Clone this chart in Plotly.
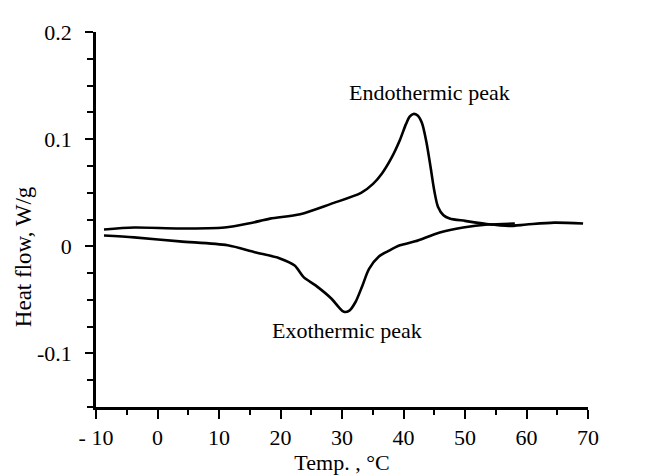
import plotly.graph_objects as go

# Heating curve (endothermic)
heat_temp = [-8.7, -3.8, 3.6, 10.9, 15.0, 18.3, 23.2, 28.2, 33.1, 35.0, 36.5, 38.0, 39.4, 40.4,
             41.0, 41.6, 42.3, 43.0, 43.7, 44.4, 45.0, 45.6, 46.5, 47.5, 50.0, 53.3, 57.1,
             60.0, 64.5, 69.2]
heat_flow = [0.0157, 0.0175, 0.0166, 0.0175, 0.0215, 0.0258, 0.0300, 0.0396, 0.0498, 0.0580,
             0.0680, 0.0820, 0.0990, 0.1140, 0.1210, 0.1235, 0.1220, 0.1150, 0.0980, 0.0740,
             0.0520, 0.0370, 0.0290, 0.0260, 0.0237, 0.0210, 0.0190, 0.0203, 0.0221, 0.0212]

# Cooling curve (exothermic)
cool_temp = [-8.7, -3.8, 3.6, 11.4, 15.8, 19.8, 22.3, 23.8, 25.7, 28.3, 29.5, 30.3, 31.2,
             32.2, 33.3, 34.4, 36.0, 37.5, 39.4, 41.9, 45.9, 49.7, 53.7, 58.1]
cool_flow = [0.0101, 0.0083, 0.0046, 0.0009, -0.0055, -0.0111, -0.0180, -0.0290, -0.0365,
             -0.0490, -0.0570, -0.0612, -0.0600, -0.0520, -0.0370, -0.0210, -0.0095, -0.0045,
             0.0009, 0.0046, 0.0129, 0.0175, 0.0203, 0.0212]

x_ticks = [-10, 0, 10, 20, 30, 40, 50, 60, 70]
x_ticktext = ["- 10", "0", "10", "20", "30", "40", "50", "60", "70"]
y_ticks = [-0.1, 0, 0.1, 0.2]
y_ticktext = ["-0.1", "0", "0.1", "0.2"]

FONT = "Liberation Serif"
FS = 22

fig = go.Figure()
for xs, ys in ((heat_temp, heat_flow), (cool_temp, cool_flow)):
    fig.add_trace(go.Scatter(x=xs, y=ys, mode="lines",
                             line=dict(color="black", width=2.6, shape="spline", smoothing=0.8),
                             showlegend=False, hoverinfo="skip"))

fig.add_annotation(x=44.3, y=0.1438, text="Endothermic peak", showarrow=False,
                   font=dict(family=FONT, size=FS, color="black"))
fig.add_annotation(x=30.8, y=-0.079, text="Exothermic peak", showarrow=False,
                   font=dict(family=FONT, size=FS, color="black"))
fig.add_annotation(xref="paper", yref="paper", x=-0.148, y=0.40, text="Heat flow, W/g",
                   textangle=-90, showarrow=False, xanchor="center", yanchor="middle",
                   font=dict(family=FONT, size=23, color="black"))

fig.update_layout(
    width=650, height=476,
    margin=dict(l=88, r=70, t=24, b=73),
    paper_bgcolor="white", plot_bgcolor="white",
    font=dict(family=FONT, size=FS, color="black"),
    xaxis=dict(range=[-10, 70], tickvals=x_ticks, ticktext=x_ticktext,
               showline=True, linecolor="black", linewidth=2.5, mirror=False,
               ticks="outside", ticklen=9, tickwidth=2, tickcolor="black",
               minor=dict(dtick=5, tick0=-10, ticks="outside", ticklen=5, tickwidth=2,
                          tickcolor="black", showgrid=False),
               showgrid=False, zeroline=False,
               title=dict(text="Temp. , °C", standoff=6,
                          font=dict(family=FONT, size=FS, color="black"))),
    yaxis=dict(range=[-0.15, 0.2], tickvals=y_ticks, ticktext=y_ticktext,
               showline=True, linecolor="black", linewidth=2.5, mirror=False,
               ticks="outside", ticklen=8, tickwidth=2, tickcolor="black",
               ticklabelstandoff=9,
               minor=dict(dtick=0.025, tick0=0, ticks="outside", ticklen=6, tickwidth=2,
                          tickcolor="black", showgrid=False),
               showgrid=False, zeroline=False),
)

fig.write_html("out.html")
